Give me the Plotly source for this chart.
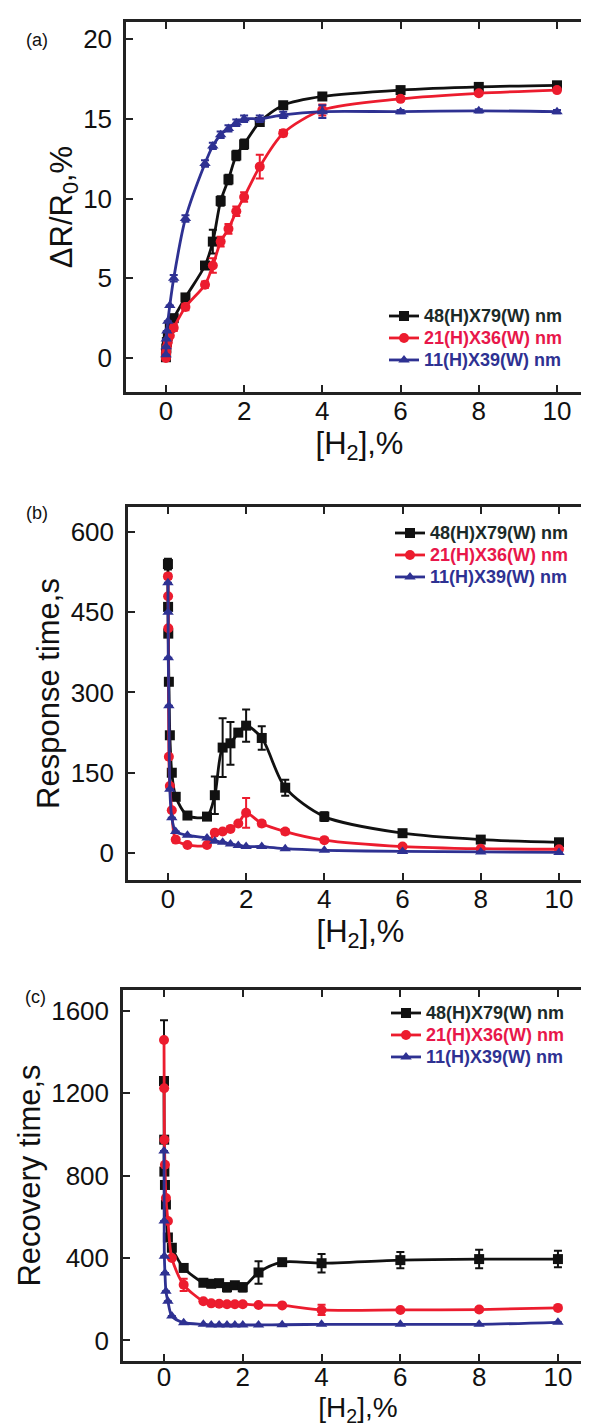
import plotly.graph_objects as go

# ---------------- data ----------------
h2_conc = [0.001, 0.005, 0.01, 0.025, 0.05, 0.1, 0.2, 0.5, 1.0, 1.2, 1.4, 1.6, 1.8, 2.0, 2.4, 3.0, 4.0, 6.0, 8.0, 10.0]

series_names = ["48(H)X79(W) nm", "21(H)X36(W) nm", "11(H)X39(W) nm"]

# (a) dR/R0, %
a_black = [0.05, 0.3, 0.6, 1.0, 1.4, 1.9, 2.5, 3.8, 5.8, 7.3, 9.85, 11.2, 12.7, 13.4, 14.8, 15.85, 16.4, 16.8, 17.0, 17.1]
a_black_err = [0, 0, 0, 0, 0, 0, 0.2, 0.2, 0.2, 0.75, 0.3, 0.3, 0.3, 0.3, 0.2, 0.2, 0.2, 0.1, 0.1, 0.1]
a_red = [0.0, 0.2, 0.4, 0.7, 1.0, 1.4, 1.9, 3.2, 4.6, 5.8, 7.3, 8.1, 9.2, 10.1, 12.0, 14.1, 15.55, 16.25, 16.6, 16.8]
a_red_err = [0, 0, 0, 0, 0, 0, 0.2, 0.2, 0.2, 0.45, 0.3, 0.3, 0.3, 0.3, 0.75, 0.2, 0.35, 0.1, 0.1, 0.1]
a_blue = [0.2, 0.7, 1.2, 1.7, 2.3, 3.3, 5.0, 8.75, 12.2, 13.3, 14.0, 14.4, 14.75, 15.0, 15.0, 15.25, 15.45, 15.45, 15.5, 15.45]
a_blue_err = [0, 0, 0, 0, 0, 0, 0.2, 0.2, 0.2, 0.2, 0.2, 0.2, 0.2, 0.2, 0.2, 0.2, 0.4, 0.1, 0.1, 0.1]

# (b) response time, s
b_black = [540, 460, 410, 320, 220, 150, 105, 70, 68, 108, 197, 205, 225, 238, 215, 122, 68, 37, 25, 20]
b_black_err = [10, 0, 0, 0, 0, 0, 0, 0, 0, 35, 55, 40, 0, 30, 22, 15, 8, 4, 3, 3]
b_red = [517, 480, 420, 180, 125, 80, 25, 15, 15, 38, 40, 45, 55, 75, 55, 40, 24, 12, 8, 7]
b_red_err = [5, 0, 0, 0, 0, 0, 0, 0, 0, 0, 0, 0, 0, 28, 5, 5, 3, 2, 2, 2]
b_blue = [505, 450, 365, 275, 119, 66, 40, 33, 28, 22, 20, 17, 14, 12, 12, 8, 5, 3, 2, 1]
b_blue_err = [0] * 20

# (c) recovery time, s
c_black = [1260, 975, 820, 755, 660, 500, 450, 352, 280, 275, 278, 258, 268, 258, 330, 380, 375, 390, 395, 395]
c_black_err = [295, 0, 0, 0, 0, 0, 0, 0, 0, 0, 0, 20, 0, 20, 55, 0, 45, 40, 45, 40]
c_red = [1459, 1225, 975, 853, 692, 580, 400, 270, 190, 180, 178, 176, 176, 176, 172, 170, 148, 148, 150, 158]
c_red_err = [0, 0, 0, 0, 0, 0, 0, 30, 0, 0, 0, 0, 0, 0, 0, 0, 25, 0, 10, 0]
c_blue = [920, 580, 409, 328, 239, 190, 118, 86, 78, 75, 75, 75, 75, 75, 75, 76, 78, 78, 78, 88]
c_blue_err = [0] * 20

x_ticks = [0, 2, 4, 6, 8, 10]
y_titles = ["ΔR/R<sub>0</sub>,%", "Response time,s", "Recovery time,s"]
x_title = "[H<sub>2</sub>],%"
panel_labels = ["(a)", "(b)", "(c)"]

# ---------------- style ----------------
W, H = 589, 1424
colors = ["#111111", "#ec1c2e", "#2e3192"]
text_colors = ["#1b2a28", "#e8174a", "#2e3192"]
symbols = ["square", "circle", "triangle-up"]
FONT = "Liberation Sans, Arial, sans-serif"

# panel boxes in pixels: (left, right, top, bottom)
boxes = [(118, 585, 14, 384), (120, 585, 499, 872), (115, 585, 982, 1353)]
y_ranges = [[-2.13, 21.07], [-50.5, 646.7], [-100, 1702]]
y_dticks = [5, 150, 400]
x_ranges = [[-1.02, 10.92], [-1.02, 10.87], [-1.04, 10.89]]
x_label_standoff = [-6, -6, -9]
x_title_standoff = [3, 3, 0]
x_title_size = [31, 31, 28]
legend_pos = [(376, 292), (382, 509), (378, 989)]
label_pos = [(29, 32), (29, 505), (27, 989)]

panels = [
    [(a_black, a_black_err), (a_red, a_red_err), (a_blue, a_blue_err)],
    [(b_black, b_black_err), (b_red, b_red_err), (b_blue, b_blue_err)],
    [(c_black, c_black_err), (c_red, c_red_err), (c_blue, c_blue_err)],
]

fig = go.Figure()
layout = dict(
    width=W, height=H, margin=dict(l=0, r=0, t=0, b=0),
    paper_bgcolor="white", plot_bgcolor="white",
    font=dict(family=FONT, color="#111111"),
    annotations=[],
)

for p, series in enumerate(panels):
    ax = "" if p == 0 else str(p + 1)
    legname = "legend" if p == 0 else f"legend{p + 1}"
    for s, (vals, errs) in enumerate(series):
        fig.add_trace(go.Scatter(
            x=h2_conc, y=vals,
            xaxis="x" + ax, yaxis="y" + ax,
            mode="lines+markers",
            line=dict(color=colors[s], width=2.8, shape="spline", smoothing=0.8),
            marker=dict(symbol=symbols[s], size=10, color=colors[s]),
            error_y=dict(type="data", array=errs, visible=True, color=colors[s], thickness=2, width=4),
            name=f"<b><span style='color:{text_colors[s]};font-size:18px'>{series_names[s]}</span></b>",
            legend=legname,
        ))
    l, r, t, b = boxes[p]
    axis_common = dict(
        showline=True, linewidth=2.5, linecolor="#222222", mirror="ticks",
        ticks="inside", ticklen=7, tickwidth=2, tickcolor="#222222",
        showgrid=False, zeroline=False,
        tickfont=dict(family=FONT, size=26, color="#111111"),
    )
    layout["xaxis" + ax] = dict(
        axis_common, domain=[l / W, r / W], range=x_ranges[p], anchor="y" + ax,
        tickmode="array", tickvals=x_ticks, ticklabelstandoff=x_label_standoff[p],
        title=dict(text=x_title, font=dict(family=FONT, size=x_title_size[p], color="#111111"),
                   standoff=x_title_standoff[p]),
    )
    layout["yaxis" + ax] = dict(
        axis_common, domain=[1 - b / H, 1 - t / H], range=y_ranges[p], anchor="x" + ax,
        tick0=0, dtick=y_dticks[p], ticklabelstandoff=6,
        title=dict(text=y_titles[p], font=dict(family=FONT, size=31, color="#111111"), standoff=2),
    )
    lx, ly = legend_pos[p]
    layout[legname] = dict(
        x=lx / W, y=1 - ly / H, xanchor="left", yanchor="top",
        bgcolor="rgba(0,0,0,0)", borderwidth=0,
        font=dict(family=FONT, size=14.6, color="#111111"),
        tracegroupgap=0,
    )
    px_, py_ = label_pos[p]
    layout["annotations"].append(dict(
        text=panel_labels[p], x=px_ / W, y=1 - py_ / H, xref="paper", yref="paper",
        xanchor="center", yanchor="middle", showarrow=False,
        font=dict(family=FONT, size=18, color="#111111"),
    ))

fig.update_layout(**layout)
fig.write_html("out.html")
